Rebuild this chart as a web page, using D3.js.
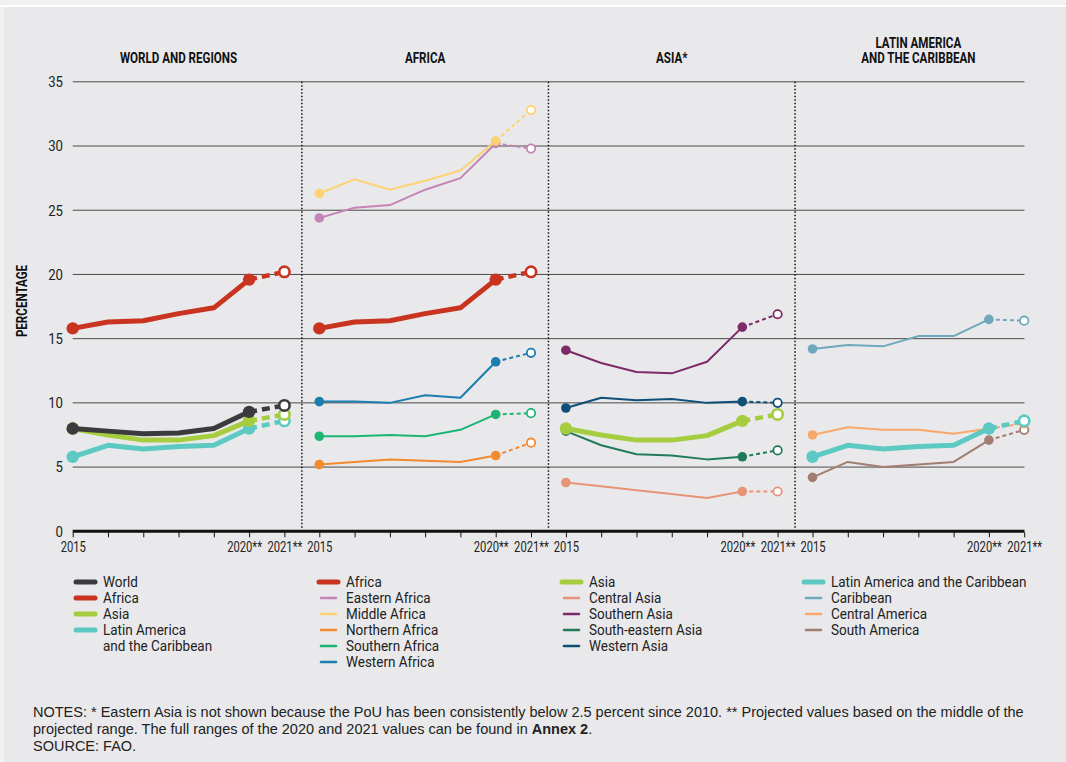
<!DOCTYPE html>
<html>
<head>
<meta charset="utf-8">
<script src="https://cdn.jsdelivr.net/npm/d3@7"></script>
<style>
  body { margin: 0; background: #f1f1f1; }
  svg { display: block; }
</style>
</head>
<body>
<svg width="1066" height="762"></svg>
<script>
// waarden (prevalentie van ondervoeding, %)
var years = [2015, 2016, 2017, 2018, 2019, 2020, 2021];
var yearLabels = ["2015", "", "", "", "", "2020**", "2021**"];
var yTicks = [0, 5, 10, 15, 20, 25, 30, 35];
var panelTitles = [["WORLD AND REGIONS"], ["AFRICA"], ["ASIA*"], ["LATIN AMERICA", "AND THE CARIBBEAN"]];

var world = [8.0, 7.8, 7.6, 7.65, 8.0, 9.3, 9.8];
var africa = [15.8, 16.3, 16.4, 16.95, 17.4, 19.6, 20.2];
var asia = [8.0, 7.5, 7.1, 7.1, 7.45, 8.6, 9.1];
var lac = [5.8, 6.7, 6.4, 6.6, 6.7, 8.0, 8.6];

var easternAfrica = [24.4, 25.2, 25.4, 26.6, 27.5, 30.2, 29.8];
var middleAfrica = [26.3, 27.4, 26.6, 27.3, 28.1, 30.4, 32.8];
var northernAfrica = [5.2, 5.4, 5.6, 5.5, 5.4, 5.9, 6.9];
var southernAfrica = [7.4, 7.4, 7.5, 7.4, 7.9, 9.1, 9.2];
var westernAfrica = [10.1, 10.1, 10.0, 10.6, 10.4, 13.2, 13.9];

var centralAsia = [3.8, 3.5, 3.2, 2.9, 2.6, 3.1, 3.1];
var southernAsia = [14.1, 13.1, 12.4, 12.3, 13.2, 15.9, 16.9];
var southEasternAsia = [7.8, 6.7, 6.0, 5.9, 5.6, 5.8, 6.3];
var westernAsia = [9.6, 10.4, 10.2, 10.3, 10.0, 10.1, 10.0];

var caribbean = [14.2, 14.5, 14.4, 15.2, 15.2, 16.5, 16.4];
var centralAmerica = [7.5, 8.1, 7.9, 7.9, 7.6, 8.0, 8.4];
var southAmerica = [4.2, 5.4, 5.0, 5.2, 5.4, 7.1, 7.9];

// geen smalle letter beschikbaar: Roboto wordt horizontaal ingedrukt
var font = "Roboto,'Liberation Sans',sans-serif";
var regular = "'Liberation Sans',Arial,sans-serif";

// reeksen per paneel, in tekenvolgorde (dikke lijn bovenop)
var panels = [
  [
    { name: "Latin America and the Caribbean", values: lac, color: "#5cc9c3", thick: true },
    { name: "Asia", values: asia, color: "#a5cd3f", thick: true },
    { name: "Africa", values: africa, color: "#c8341f", thick: true },
    { name: "World", values: world, color: "#3b3b3d", thick: true }
  ],
  [
    { name: "Northern Africa", values: northernAfrica, color: "#f28a2e" },
    { name: "Southern Africa", values: southernAfrica, color: "#1db574" },
    { name: "Western Africa", values: westernAfrica, color: "#1b7db0" },
    { name: "Eastern Africa", values: easternAfrica, color: "#c484b4" },
    { name: "Middle Africa", values: middleAfrica, color: "#fdd272" },
    { name: "Africa", values: africa, color: "#c8341f", thick: true }
  ],
  [
    { name: "Central Asia", values: centralAsia, color: "#e69477" },
    { name: "South-eastern Asia", values: southEasternAsia, color: "#217a5c" },
    { name: "Western Asia", values: westernAsia, color: "#0e4f78" },
    { name: "Southern Asia", values: southernAsia, color: "#7d2a68" },
    { name: "Asia", values: asia, color: "#a5cd3f", thick: true }
  ],
  [
    { name: "Caribbean", values: caribbean, color: "#6fa7bd" },
    { name: "South America", values: southAmerica, color: "#a17d72" },
    { name: "Central America", values: centralAmerica, color: "#f9a76b" },
    { name: "Latin America and the Caribbean", values: lac, color: "#5cc9c3", thick: true }
  ]
];

// legenda kolommen
var legendCols = [
  [{ t: ["World"], c: "#3b3b3d", k: 1 }, { t: ["Africa"], c: "#c8341f", k: 1 }, { t: ["Asia"], c: "#a5cd3f", k: 1 },
   { t: ["Latin America", "and the Caribbean"], c: "#5cc9c3", k: 1 }],
  [{ t: ["Africa"], c: "#c8341f", k: 1 }, { t: ["Eastern Africa"], c: "#c484b4" }, { t: ["Middle Africa"], c: "#fdd272" },
   { t: ["Northern Africa"], c: "#f28a2e" }, { t: ["Southern Africa"], c: "#1db574" }, { t: ["Western Africa"], c: "#1b7db0" }],
  [{ t: ["Asia"], c: "#a5cd3f", k: 1 }, { t: ["Central Asia"], c: "#e69477" }, { t: ["Southern Asia"], c: "#7d2a68" },
   { t: ["South-eastern Asia"], c: "#217a5c" }, { t: ["Western Asia"], c: "#0e4f78" }],
  [{ t: ["Latin America and the Caribbean"], c: "#5cc9c3", k: 1 }, { t: ["Caribbean"], c: "#6fa7bd" },
   { t: ["Central America"], c: "#f9a76b" }, { t: ["South America"], c: "#a17d72" }]
];

// zet x/y om naar een transform met horizontale compressie
function condense(sel, k, rot) {
  sel.each(function () {
    var t = d3.select(this);
    var tx = +t.attr("x") || 0, ty = +t.attr("y") || 0;
    t.attr("x", 0).attr("y", 0)
      .attr("transform", "translate(" + tx + "," + ty + ")" + (rot ? " rotate(" + rot + ")" : "") + " scale(" + k + ",1)");
  });
}

var svg = d3.select("svg");

// achtergrond
svg.append("rect").attr("x", 4).attr("y", 7).attr("width", 1062).attr("height", 755).attr("fill", "#e9e9eb");
svg.append("rect").attr("x", 0).attr("y", 5).attr("width", 1066).attr("height", 2).attr("fill", "#ffffff");

var left = 72.7, right = 1024.5, panelStep = 246.6, panelWidth = 211.7;

var y = d3.scaleLinear().domain([0, 35]).range([531.3, 81.8]);
var x = d3.scaleLinear().domain([2015, 2021]).range([0, panelWidth]);

// rasterlijnen
svg.append("g").selectAll("line")
  .data(yTicks.filter(function (d) { return d > 0; }))
  .enter().append("line")
  .attr("x1", left).attr("x2", right)
  .attr("y1", function (d) { return y(d); }).attr("y2", function (d) { return y(d); })
  .attr("stroke", "#4a4a4a").attr("stroke-width", 1);

// y labels
svg.append("g").selectAll("text")
  .data(yTicks)
  .enter().append("text")
  .attr("x", 63).attr("y", function (d) { return y(d); })
  .attr("dy", "0.36em")
  .attr("text-anchor", "end")
  .attr("font-family", font).attr("font-size", 15).attr("fill", "#222")
  .text(function (d) { return d; })
  .call(condense, 0.88);

svg.append("text")
  .attr("x", 27).attr("y", 301)
  .attr("text-anchor", "middle")
  .attr("font-family", font).attr("font-weight", "bold").attr("font-size", 14.5).attr("fill", "#111")
  .text("PERCENTAGE")
  .call(condense, 0.8, -90);

// scheidingslijnen tussen panelen
for (var s = 1; s < 4; s++) {
  var sx = left + s * panelStep - (panelStep - panelWidth) / 2;
  svg.append("line")
    .attr("x1", sx).attr("x2", sx).attr("y1", y(35)).attr("y2", y(0) - 3)
    .attr("stroke", "#111").attr("stroke-width", 1.5).attr("stroke-dasharray", "1.5,2");
}

var line = d3.line()
  .x(function (d) { return x(d.year); })
  .y(function (d) { return y(d.v); });

panels.forEach(function (series, p) {
  var g = svg.append("g").attr("transform", "translate(" + (left + p * panelStep) + ",0)");

  // titel
  panelTitles[p].forEach(function (t, i, arr) {
    g.append("text")
      .attr("x", panelWidth / 2).attr("y", 63 - (arr.length - 1 - i) * 15)
      .attr("text-anchor", "middle")
      .attr("font-family", font).attr("font-weight", "bold").attr("font-size", 14.5).attr("fill", "#111")
      .text(t)
      .call(condense, 0.8);
  });

  // x as
  var axis = g.append("g").attr("transform", "translate(0," + y(0) + ")")
    .call(d3.axisBottom(x).tickValues(years).tickSize(5).tickFormat(function (d, i) { return yearLabels[i]; }));
  axis.select(".domain").remove();
  axis.selectAll(".tick line").attr("stroke", "#111").attr("transform", "translate(0,1)");
  axis.selectAll(".tick text")
    .attr("font-family", font).attr("font-size", 14).attr("fill", "#222")
    .attr("x", function (d, i) { return i === 5 ? -5 : 0; }).attr("y", 11)
    .call(condense, 0.8);

  series.forEach(function (s) {
    var pts = years.map(function (yr, i) { return { year: yr, v: s.values[i] }; });
    var w = s.thick ? 5 : 2;
    var r = s.thick ? 6.2 : 4.8;
    var sg = g.append("g");
    sg.append("path").datum(pts.slice(0, 6))
      .attr("d", line).attr("fill", "none")
      .attr("stroke", s.color).attr("stroke-width", w).attr("stroke-linejoin", "round");
    sg.append("path").datum(pts.slice(5, 7))
      .attr("d", line).attr("fill", "none")
      .attr("stroke", s.color).attr("stroke-width", s.thick ? 4.5 : 2)
      .attr("stroke-dasharray", s.thick ? "8,5" : "4,3");
    sg.selectAll("circle.f").data([pts[0], pts[5]]).enter().append("circle")
      .attr("cx", function (d) { return x(d.year); }).attr("cy", function (d) { return y(d.v); })
      .attr("r", r).attr("fill", s.color);
    sg.append("circle")
      .attr("cx", x(pts[6].year)).attr("cy", y(pts[6].v))
      .attr("r", s.thick ? 5.2 : 4.2)
      .attr("fill", "#ffffff").attr("stroke", s.color).attr("stroke-width", s.thick ? 2.6 : 1.8);
  });
});

// basislijn
svg.append("line")
  .attr("x1", left).attr("x2", right).attr("y1", y(0)).attr("y2", y(0))
  .attr("stroke", "#111").attr("stroke-width", 3);

// legenda
var legendX = [75, 318, 561, 803];
legendCols.forEach(function (col, c) {
  var row = 0;
  col.forEach(function (item) {
    var ly = 582 + row * 16;
    svg.append("line")
      .attr("x1", legendX[c] + (item.k ? 1 : 3)).attr("x2", legendX[c] + (item.k ? 20 : 18))
      .attr("y1", ly).attr("y2", ly)
      .attr("stroke", item.c).attr("stroke-width", item.k ? 5 : 2.6).attr("stroke-linecap", "round");
    item.t.forEach(function (t, j) {
      svg.append("text")
        .attr("x", legendX[c] + 28).attr("y", ly + j * 16).attr("dy", "0.35em")
        .attr("font-family", font).attr("font-size", 15).attr("fill", "#222")
        .text(t)
        .call(condense, 0.9);
    });
    row += item.t.length;
  });
});

// noten
var notes = svg.append("g").attr("font-family", regular).attr("font-size", 14.5).attr("fill", "#222");
notes.append("text").attr("x", 33).attr("y", 717)
  .text("NOTES: * Eastern Asia is not shown because the PoU has been consistently below 2.5 percent since 2010. ** Projected values based on the middle of the");
var n2 = notes.append("text").attr("x", 33).attr("y", 734);
n2.append("tspan").text("projected range. The full ranges of the 2020 and 2021 values can be found in ");
n2.append("tspan").attr("font-weight", "bold").text("Annex 2");
n2.append("tspan").text(".");
notes.append("text").attr("x", 33).attr("y", 751).text("SOURCE: FAO.");
</script>
</body>
</html>
